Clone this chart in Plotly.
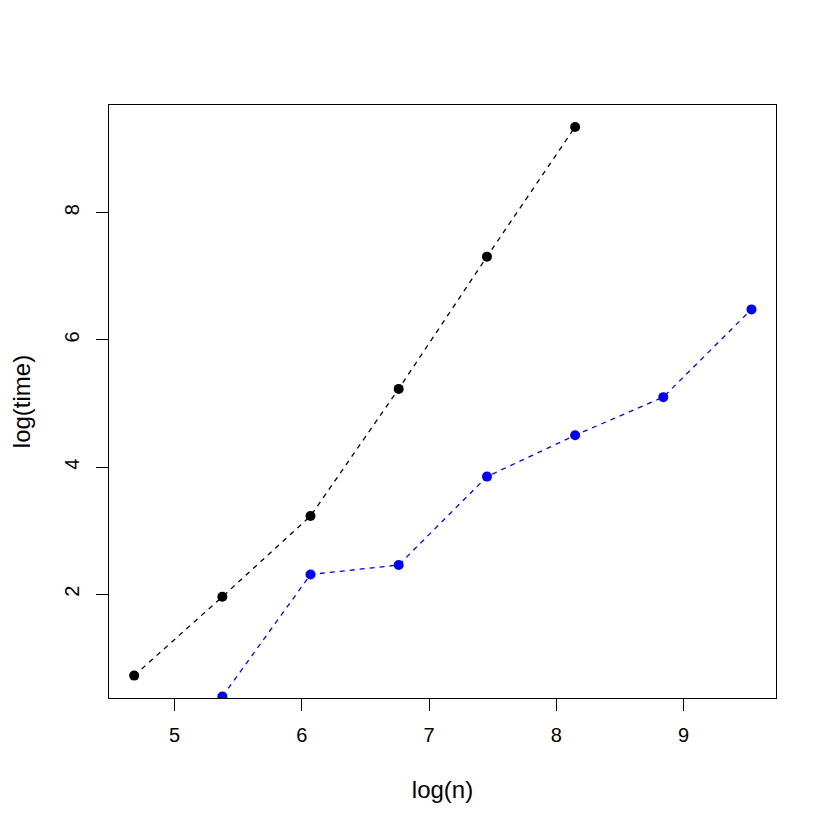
import plotly.graph_objects as go

log_n = [4.682, 5.375, 6.068, 6.761, 7.455, 8.148, 8.841, 9.534]
time_black = [0.72, 1.96, 3.23, 5.23, 7.31, 9.35]
time_blue = [0.39, 2.31, 2.46, 3.85, 4.50, 5.10, 6.48]

x_ticks = [5, 6, 7, 8, 9]
y_ticks = [2, 4, 6, 8]

fig = go.Figure()
fig.add_trace(go.Scatter(
    x=log_n[:len(time_black)], y=time_black, mode="lines+markers",
    line=dict(color="black", width=1.3, dash="5px,5px"),
    marker=dict(color="black", size=10), cliponaxis=True, showlegend=False))
fig.add_trace(go.Scatter(
    x=log_n[1:1 + len(time_blue)], y=time_blue, mode="lines+markers",
    line=dict(color="blue", width=1.3, dash="5px,5px"),
    marker=dict(color="blue", size=10), cliponaxis=True, showlegend=False))

axis_common = dict(
    showgrid=False, zeroline=False, showline=True, mirror=True,
    linecolor="black", linewidth=1.2, ticks="outside", ticklen=12,
    tickwidth=1.2, tickcolor="black",
    tickfont=dict(family="Liberation Sans, Arial, sans-serif", size=20, color="black"),
)

fig.update_layout(
    width=822, height=822,
    margin=dict(l=97, r=54, t=97, b=132),
    plot_bgcolor="white", paper_bgcolor="white",
    font=dict(family="Liberation Sans, Arial, sans-serif", size=20, color="black"),
    xaxis=dict(range=[4.484, 9.727], tickvals=x_ticks, ticktext=[str(v) for v in x_ticks],
               ticklabelstandoff=7,
               title=dict(text="log(n)", standoff=36), **axis_common),
    yaxis=dict(range=[0.368, 9.695], tickvals=y_ticks, ticktext=[str(v) for v in y_ticks],
               tickangle=-90, ticklabelstandoff=9,
               title=dict(text="log(time)", standoff=24), **axis_common),
)

fig.write_html("out.html")
